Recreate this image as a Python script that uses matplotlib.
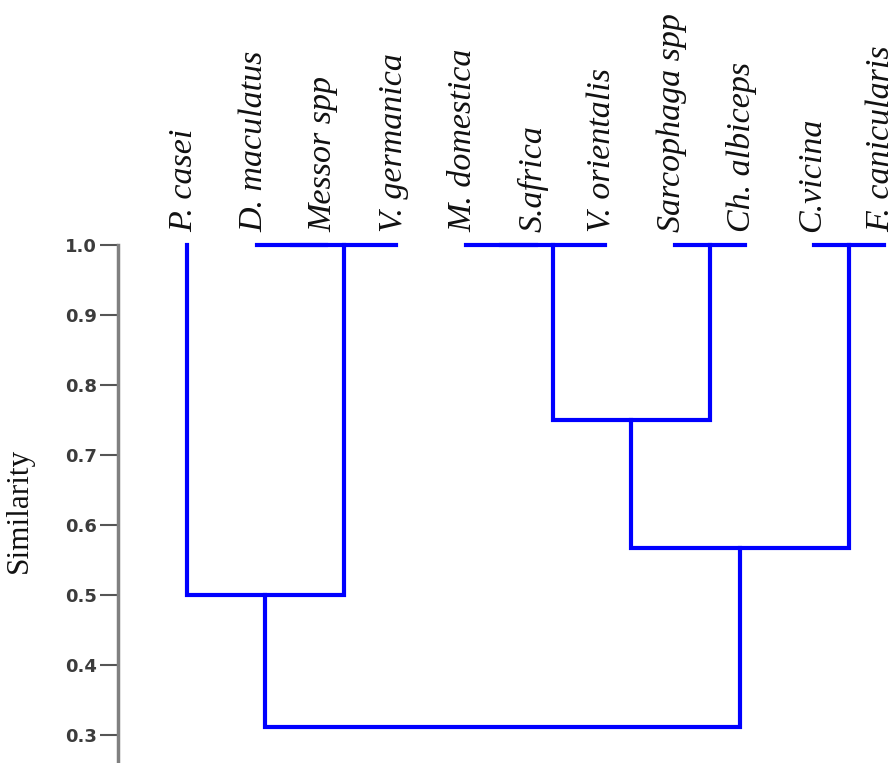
import matplotlib.pyplot as plt
import numpy as np

# leaves in drawing order
species = ['P. casei', 'D. maculatus', 'Messor spp', 'V. germanica', 'M. domestica',
           'S.africa', 'V. orientalis', 'Sarcophaga spp', 'Ch. albiceps', 'C.vicina',
           'F. canicularis']
leaf_similarity = 1.0

# merges, linkage style: new cluster ids start after the leaves
merge_left = [1, 11, 4, 13, 7, 9, 0, 14, 18, 17]
merge_right = [2, 3, 5, 6, 8, 10, 12, 15, 16, 19]
merge_similarity = [1.0, 1.0, 1.0, 1.0, 1.0, 1.0, 0.5, 0.75, 0.567, 0.311]

yticks = [0.3, 0.4, 0.5, 0.6, 0.7, 0.8, 0.9, 1.0]

fig = plt.figure(figsize=(8.96, 7.63), dpi=100)
ax = fig.add_axes([118 / 896, 0, 778 / 896, 518 / 763])

n = len(species)
xpos = {i: float(i) for i in range(n)}
hgt = {i: leaf_similarity for i in range(n)}

for k, (a, b, h) in enumerate(zip(merge_left, merge_right, merge_similarity)):
    xa, xb = xpos[a], xpos[b]
    ax.plot([xa, xa, xb, xb], [hgt[a], h, h, hgt[b]], color='#0000ff', lw=3,
            clip_on=False, solid_joinstyle='miter', solid_capstyle='projecting')
    xpos[n + k] = (xa + xb) / 2
    hgt[n + k] = h

for i, name in enumerate(species):
    ax.annotate(name, (i, leaf_similarity), xytext=(-2, 9), textcoords='offset points',
                rotation=90, ha='center', va='bottom', fontsize=24.5,
                family='Liberation Serif', style='italic', color='#111111')

ax.set_xlim(-0.99, 10.172)
ax.set_ylim(0.26, 1.0)
ax.set_yticks(yticks)
ax.set_yticklabels(['%.1f' % t for t in yticks])
ax.set_xticks([])
for s in ['top', 'right', 'bottom']:
    ax.spines[s].set_visible(False)
ax.spines['left'].set_color('#808080')
ax.spines['left'].set_linewidth(2.5)
ax.tick_params(axis='y', length=13, width=1.5, color='#555555', pad=2,
               labelsize=13, labelcolor='#3c3c3c')
for lbl in ax.get_yticklabels():
    lbl.set_fontweight('bold')

fig.text(19 / 896, 1 - 510 / 763, 'Similarity', rotation=90, ha='center', va='center',
         fontsize=22.5, family='Liberation Serif', color='#111111')

fig.savefig('out.png', dpi=100)
